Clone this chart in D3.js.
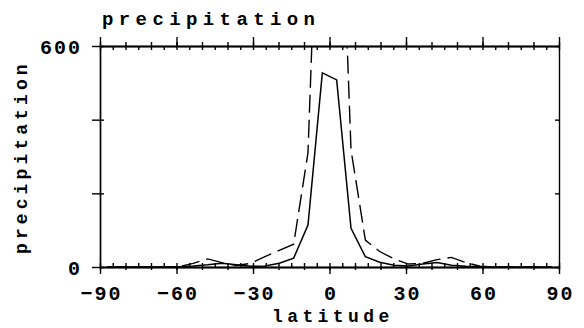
<!DOCTYPE html>
<html>
<head>
<meta charset="utf-8">
<script src="https://cdn.jsdelivr.net/npm/d3@7"></script>
<style>
  body { margin: 0; background: #fff; }
  svg text { font-family: "Liberation Mono", "DejaVu Sans Mono", monospace; font-weight: bold; fill: #000; }
</style>
</head>
<body>
<div id="area_chart"></div>
<script>
// latitude grid (5.625 deg spacing)
const latitudes = [-87.1875, -81.5625, -75.9375, -70.3125, -64.6875, -59.0625, -53.4375, -47.8125,
  -42.1875, -36.5625, -30.9375, -25.3125, -19.6875, -14.0625, -8.4375, -2.8125,
  2.8125, 8.4375, 14.0625, 19.6875, 25.3125, 30.9375, 36.5625, 42.1875,
  47.8125, 53.4375, 59.0625, 64.6875, 70.3125, 75.9375, 81.5625, 87.1875];
const precipSolid = [0, 0, 0, 0, 0, 1, 3, 6,
  10, 6, 2, 3, 10, 24, 114, 527,
  508, 105, 28, 13, 5, 3, 8, 12,
  5, 2, 1, 0, 0, 0, 0, 0];
const precipDashed = [0, 0, 0, 0, 0, 1, 10, 22,
  12, 4, 10, 28, 45, 62, 310, 1400,
  1380, 318, 73, 42, 22, 8, 10, 20,
  26, 12, 2, 0, 0, 0, 0, 0];
const xTicks = [-90, -60, -30, 0, 30, 60, 90];
const yTicks = [0, 200, 400, 600];
const yLabelled = [0, 600];

function chart() {
  const width = 584, height = 328;
  const margin = { top: 46, left: 100, right: 25, bottom: 61 };

  const svg = d3.select("#area_chart").append("svg")
    .attr("width", width)
    .attr("height", height);

  const xScale = d3.scaleLinear().domain([-90, 90]).range([margin.left, width - margin.right]);
  const yScale = d3.scaleLinear().domain([0, 600]).range([height - margin.bottom, margin.top]);
  const x0 = xScale.range()[0], x1 = xScale.range()[1];
  const y0 = yScale.range()[0], y1 = yScale.range()[1];

  svg.append("clipPath").attr("id", "plotclip")
    .append("rect").attr("x", x0).attr("y", y1).attr("width", x1 - x0).attr("height", y0 - y1);

  const minor5 = d3.range(-90, 91, 5);
  const minor10 = d3.range(-90, 91, 10);

  function styleAxis(g) {
    g.selectAll("path, line").attr("stroke", "#000").attr("stroke-width", 1.4);
    g.selectAll("text").attr("font-size", 20).attr("letter-spacing", 2)
      .attr("font-family", "Liberation Mono").attr("font-weight", "bold");
  }

  // bottom axis
  const bottom = svg.append("g").attr("transform", `translate(0,${y0})`);
  bottom.append("g").call(d3.axisBottom(xScale).tickValues(minor5).tickSize(-4).tickSizeOuter(0).tickFormat("")).call(styleAxis);
  bottom.append("g").call(d3.axisBottom(xScale).tickValues(minor10).tickSize(3).tickSizeOuter(0).tickFormat("")).call(styleAxis);
  bottom.append("g").call(d3.axisBottom(xScale).tickValues(xTicks).tickSize(7).tickSizeOuter(0)
      .tickFormat(d => d < 0 ? "\u2212" + Math.abs(d) : d))
    .call(styleAxis)
    .call(g => g.selectAll("text").attr("y", 33).attr("dy", 0).attr("dx", 1));

  // top axis
  const top = svg.append("g").attr("transform", `translate(0,${y1})`);
  top.append("g").call(d3.axisTop(xScale).tickValues(minor5).tickSize(-4).tickSizeOuter(0).tickFormat("")).call(styleAxis);
  top.append("g").call(d3.axisTop(xScale).tickValues(minor10).tickSize(4).tickSizeOuter(0).tickFormat("")).call(styleAxis);
  top.append("g").call(d3.axisTop(xScale).tickValues(xTicks).tickSize(9).tickSizeOuter(0).tickFormat("")).call(styleAxis);

  // left axis
  const left = svg.append("g").attr("transform", `translate(${x0},0)`);
  left.append("g").call(d3.axisLeft(yScale).tickValues(yTicks).tickSize(-4).tickSizeOuter(0).tickFormat("")).call(styleAxis);
  left.append("g").call(d3.axisLeft(yScale).tickValues(yTicks).tickSize(8).tickSizeOuter(0)
      .tickFormat(d => yLabelled.includes(d) ? d : ""))
    .call(styleAxis)
    .call(g => g.selectAll("text").attr("x", -18).attr("dy", "0.38em"));

  // right axis
  const right = svg.append("g").attr("transform", `translate(${x1},0)`);
  right.append("g").call(d3.axisRight(yScale).tickValues(yTicks).tickSize(-4).tickSizeOuter(0).tickFormat("")).call(styleAxis);

  // lines
  const pts = (vals) => latitudes.map((lat, i) => ({ lat: lat, v: vals[i] }));
  const line = d3.line().x(d => xScale(d.lat)).y(d => yScale(d.v));

  const plot = svg.append("g").attr("clip-path", "url(#plotclip)");
  plot.append("path")
    .attr("d", line(pts(precipDashed)))
    .attr("fill", "none")
    .attr("stroke", "#000")
    .attr("stroke-width", 1.4)
    .attr("stroke-dasharray", "18,7");
  plot.append("path")
    .attr("d", line(pts(precipSolid)))
    .attr("fill", "none")
    .attr("stroke", "#000")
    .attr("stroke-width", 1.5);

  // titles
  svg.append("text")
    .attr("x", 102).attr("y", 25)
    .attr("font-size", 19).attr("letter-spacing", 5.4)
    .text("precipitation");

  svg.append("text")
    .attr("x", 272).attr("y", 322)
    .attr("font-size", 18).attr("letter-spacing", 4.4)
    .text("latitude");

  svg.append("text")
    .attr("transform", "translate(27,254) rotate(-90)")
    .attr("font-size", 18).attr("letter-spacing", 4.1)
    .text("precipitation");
}

chart();
</script>
</body>
</html>
